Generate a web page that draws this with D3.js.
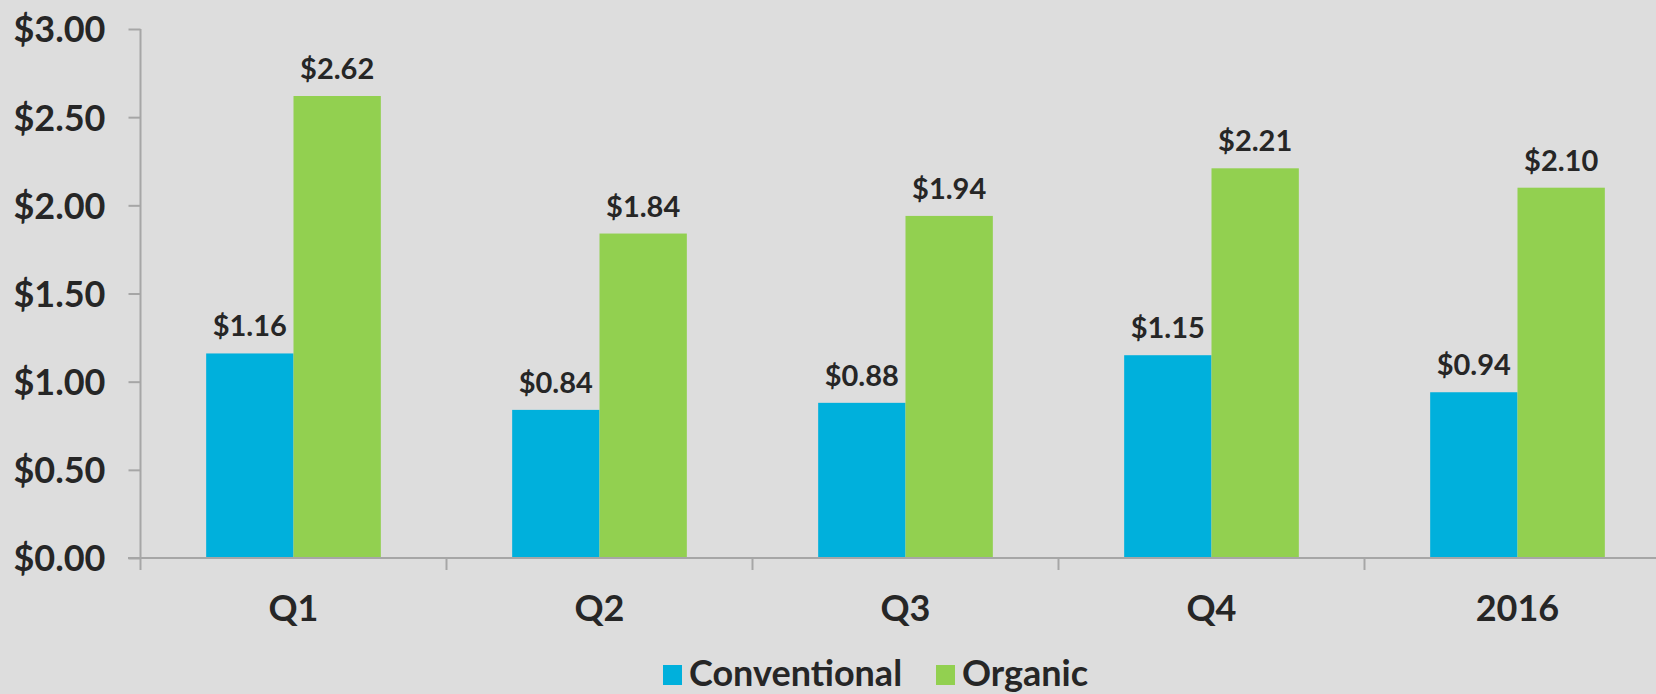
<!DOCTYPE html>
<html>
<head>
<meta charset="utf-8">
<script src="https://cdn.jsdelivr.net/npm/d3@7"></script>
<style>
  html, body { margin: 0; padding: 0; background: #dddddd; }
  svg { display: block; }
  text { font-family: Lato, "Open Sans", sans-serif; font-weight: bold; fill: #262626; }
</style>
</head>
<body>
<div id="chart"></div>
<script>
// data
var categories = ["Q1", "Q2", "Q3", "Q4", "2016"];
var seriesNames = ["Conventional", "Organic"];
var conventional = [1.16, 0.84, 0.88, 1.15, 0.94];
var organic = [2.62, 1.84, 1.94, 2.21, 2.10];
var yTicks = [0, 0.5, 1, 1.5, 2, 2.5, 3];

var colors = { "Conventional": "#00b0dc", "Organic": "#92d050" };

var width = 1656, height = 694;

var rows = categories.map(function(c, i) {
  return { cat: c, values: [
    { name: "Conventional", value: conventional[i] },
    { name: "Organic", value: organic[i] }
  ] };
});

var svg = d3.select("#chart")
  .append("svg")
  .attr("width", width)
  .attr("height", height);

// plot runs past the right edge, like the reference
var x0 = d3.scaleBand()
  .domain(categories)
  .range([140.5, 1670.5])
  .paddingInner(0)
  .paddingOuter(0);

var x1 = d3.scaleBand()
  .domain(seriesNames)
  .range([0, x0.bandwidth()])
  .paddingInner(0)
  .paddingOuter(0.752);

var y = d3.scaleLinear()
  .domain([0, 3])
  .range([558, 29]);

var fmt = function(d) { return "$" + d3.format(".2f")(d); };

// y axis
var yAxis = svg.append("g")
  .attr("transform", "translate(140.5,0)")
  .call(d3.axisLeft(y).tickValues(yTicks).tickFormat(fmt).tickSize(12).tickPadding(23));
yAxis.select(".domain").attr("stroke", "#a6a6a6").attr("stroke-width", 2).attr("d", "M0," + y(3) + "V" + y(0));
yAxis.selectAll(".tick line").attr("stroke", "#a6a6a6").attr("stroke-width", 2);
yAxis.selectAll(".tick text").style("font-size", "36px").attr("dy", "0.36em").attr("fill", "#262626");

// bars
var groups = svg.append("g")
  .selectAll("g")
  .data(rows)
  .enter()
  .append("g")
  .attr("transform", function(d) { return "translate(" + x0(d.cat) + ",0)"; });

groups.selectAll("rect")
  .data(function(d) { return d.values; })
  .enter()
  .append("rect")
  .attr("x", function(d) { return x1(d.name); })
  .attr("y", function(d) { return y(d.value); })
  .attr("width", x1.bandwidth())
  .attr("height", function(d) { return y(0) - y(d.value); })
  .style("fill", function(d) { return colors[d.name]; });

groups.selectAll("text.val")
  .data(function(d) { return d.values; })
  .enter()
  .append("text")
  .attr("class", "val")
  .attr("x", function(d) { return x1(d.name) + x1.bandwidth() / 2; })
  .attr("y", function(d) { return y(d.value) - 17; })
  .attr("text-anchor", "middle")
  .style("font-size", "29px")
  .text(function(d) { return fmt(d.value); });

// x axis
var xAxis = svg.append("g")
  .attr("transform", "translate(0," + y(0) + ")");
xAxis.append("line")
  .attr("x1", 128).attr("x2", width)
  .attr("stroke", "#a6a6a6").attr("stroke-width", 2);
xAxis.selectAll("line.tick")
  .data(categories)
  .enter()
  .append("line")
  .attr("class", "tick")
  .attr("x1", function(d) { return x0(d); })
  .attr("x2", function(d) { return x0(d); })
  .attr("y1", 0).attr("y2", 12)
  .attr("stroke", "#a6a6a6").attr("stroke-width", 2);
xAxis.selectAll("text")
  .data(categories)
  .enter()
  .append("text")
  .attr("x", function(d) { return x0(d) + x0.bandwidth() / 2; })
  .attr("y", 63)
  .attr("text-anchor", "middle")
  .style("font-size", "36px")
  .text(function(d) { return d; });

// legend
var legend = svg.append("g")
  .selectAll("g")
  .data(seriesNames)
  .enter()
  .append("g")
  .attr("transform", function(d, i) {
    return "translate(" + [663, 936][i] + ",665)";
  });
legend.append("rect")
  .attr("width", 19)
  .attr("height", 20)
  .style("fill", function(d) { return colors[d]; });
legend.append("text")
  .attr("x", 26)
  .attr("y", 21)
  .style("font-size", "36px")
  .text(function(d) { return d; });
</script>
</body>
</html>
